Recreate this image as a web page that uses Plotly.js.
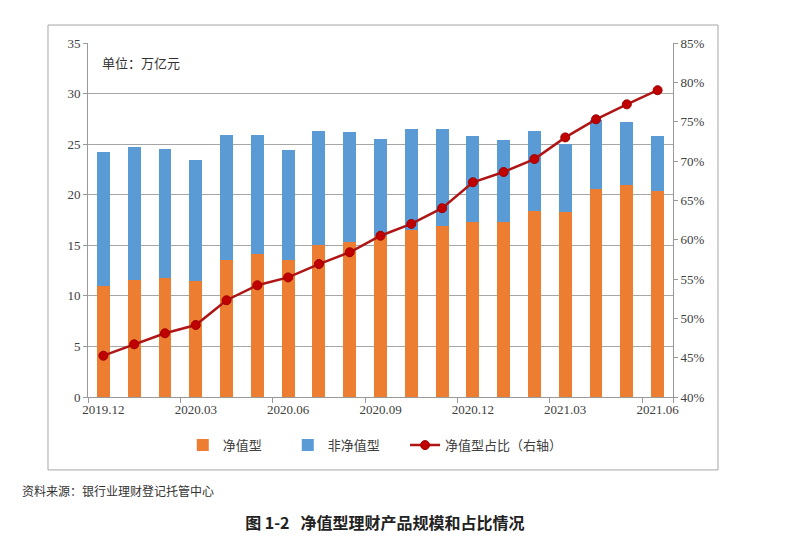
<!DOCTYPE html>
<html>
<head>
<meta charset="utf-8">
<script src="https://cdn.plot.ly/plotly-3.0.1.min.js"></script>
<style>html,body{margin:0;padding:0;background:#fff;}#chart{width:800px;height:550px;}</style>
</head>
<body>
<div id="chart"></div>
<script>
const months = ["2019.12","2020.01","2020.02","2020.03","2020.04","2020.05","2020.06","2020.07","2020.08","2020.09","2020.10","2020.11","2020.12","2021.01","2021.02","2021.03","2021.04","2021.05","2021.06"];
const tickLabels = ["2019.12","2020.03","2020.06","2020.09","2020.12","2021.03","2021.06"];
const netValue = [11.0,11.6,11.8,11.5,13.55,14.1,13.55,15.0,15.35,15.9,16.5,16.9,17.35,17.35,18.4,18.3,20.6,21.0,20.4];
const totalScale = [24.2,24.7,24.5,23.4,25.9,25.9,24.45,26.3,26.2,25.55,26.45,26.45,25.8,25.4,26.3,25.0,27.4,27.2,25.8];
const nonNetValue = totalScale.map((t,i)=>+(t-netValue[i]).toFixed(2));
const netShare = [45.25,46.7,48.1,49.15,52.3,54.2,55.2,56.9,58.4,60.5,62.0,64.0,67.3,68.6,70.25,73.0,75.3,77.2,79.0];

const serif = "Liberation Serif, Noto Sans CJK SC, serif";
const cjk = "Noto Sans CJK SC, sans-serif";

const traces = [
  {type:"bar", name:"净值型", x:months, y:netValue, marker:{color:"#ED7D31"}, hoverinfo:"x+y"},
  {type:"bar", name:"非净值型", x:months, y:nonNetValue, marker:{color:"#5B9BD5"}, hoverinfo:"x+y"},
  {type:"scatter", mode:"lines+markers", name:"净值型占比（右轴）", x:months, y:netShare, yaxis:"y2", legend:"legend2",
   line:{color:"#B01515", width:2.5}, marker:{color:"#C00000", size:9, line:{color:"#A00000", width:1}}}
];

const layout = {
  width:800, height:550,
  margin:{l:88, r:127, t:43, b:153},
  paper_bgcolor:"#fff", plot_bgcolor:"#fff",
  barmode:"stack", bargap:0.58,
  font:{family:serif, size:13, color:"#404040"},
  showlegend:true,
  legend:{orientation:"h", x:0.162, xanchor:"left", y:-0.136, yanchor:"middle",
          font:{family:cjk, size:13, color:"#404040"}, traceorder:"normal", entrywidth:60},
  legend2:{orientation:"h", x:0.542, xanchor:"left", y:-0.136, yanchor:"middle",
          font:{family:cjk, size:13, color:"#404040"}},
  title:{text:"<b>图 1-2   净值型理财产品规模和占比情况</b>", x:0.481, xanchor:"center", y:0.049, yanchor:"middle",
         font:{family:cjk, size:16, color:"#222"}},
  xaxis:{type:"category", tickmode:"array", tickvals:tickLabels, ticktext:tickLabels, tickangle:0,
         tickson:"boundaries", ticks:"outside", ticklen:5, tickcolor:"#999",
         showline:true, linecolor:"#999", linewidth:1, showgrid:false, zeroline:false,
         tickfont:{family:serif, size:13, color:"#404040"}, range:[-0.5,18.5], fixedrange:true},
  yaxis:{range:[0,35], dtick:5, ticks:"outside", ticklen:4, tickcolor:"#999",
         showline:true, linecolor:"#999", showgrid:true, gridcolor:"#A6A6A6", gridwidth:1, zeroline:false,
         tickfont:{family:serif, size:13, color:"#404040"}},
  yaxis2:{range:[40,85], dtick:5, ticksuffix:"%", overlaying:"y", side:"right",
          ticks:"outside", ticklen:4, tickcolor:"#999", showline:true, linecolor:"#999",
          showgrid:false, zeroline:false, tickfont:{family:serif, size:13, color:"#404040"}},
  annotations:[
    {text:"单位：万亿元", xref:"paper", yref:"paper", x:0.0205, y:0.946, xanchor:"left", yanchor:"middle",
     showarrow:false, font:{family:cjk, size:13, color:"#333"}},
    {text:"资料来源：银行业理财登记托管中心", xref:"paper", yref:"paper", x:-0.1162, y:-0.263, xanchor:"left", yanchor:"middle",
     showarrow:false, font:{family:cjk, size:12, color:"#333"}}
  ],
  shapes:[
    {type:"rect", xref:"paper", yref:"paper", x0:-0.0684, x1:1.0769, y0:-0.206, y1:1.0508,
     line:{color:"#A6A6A6", width:1}, fillcolor:"rgba(0,0,0,0)", layer:"below"}
  ]
};

Plotly.newPlot("chart", traces, layout, {displayModeBar:false, staticPlot:true});
</script>
</body>
</html>
